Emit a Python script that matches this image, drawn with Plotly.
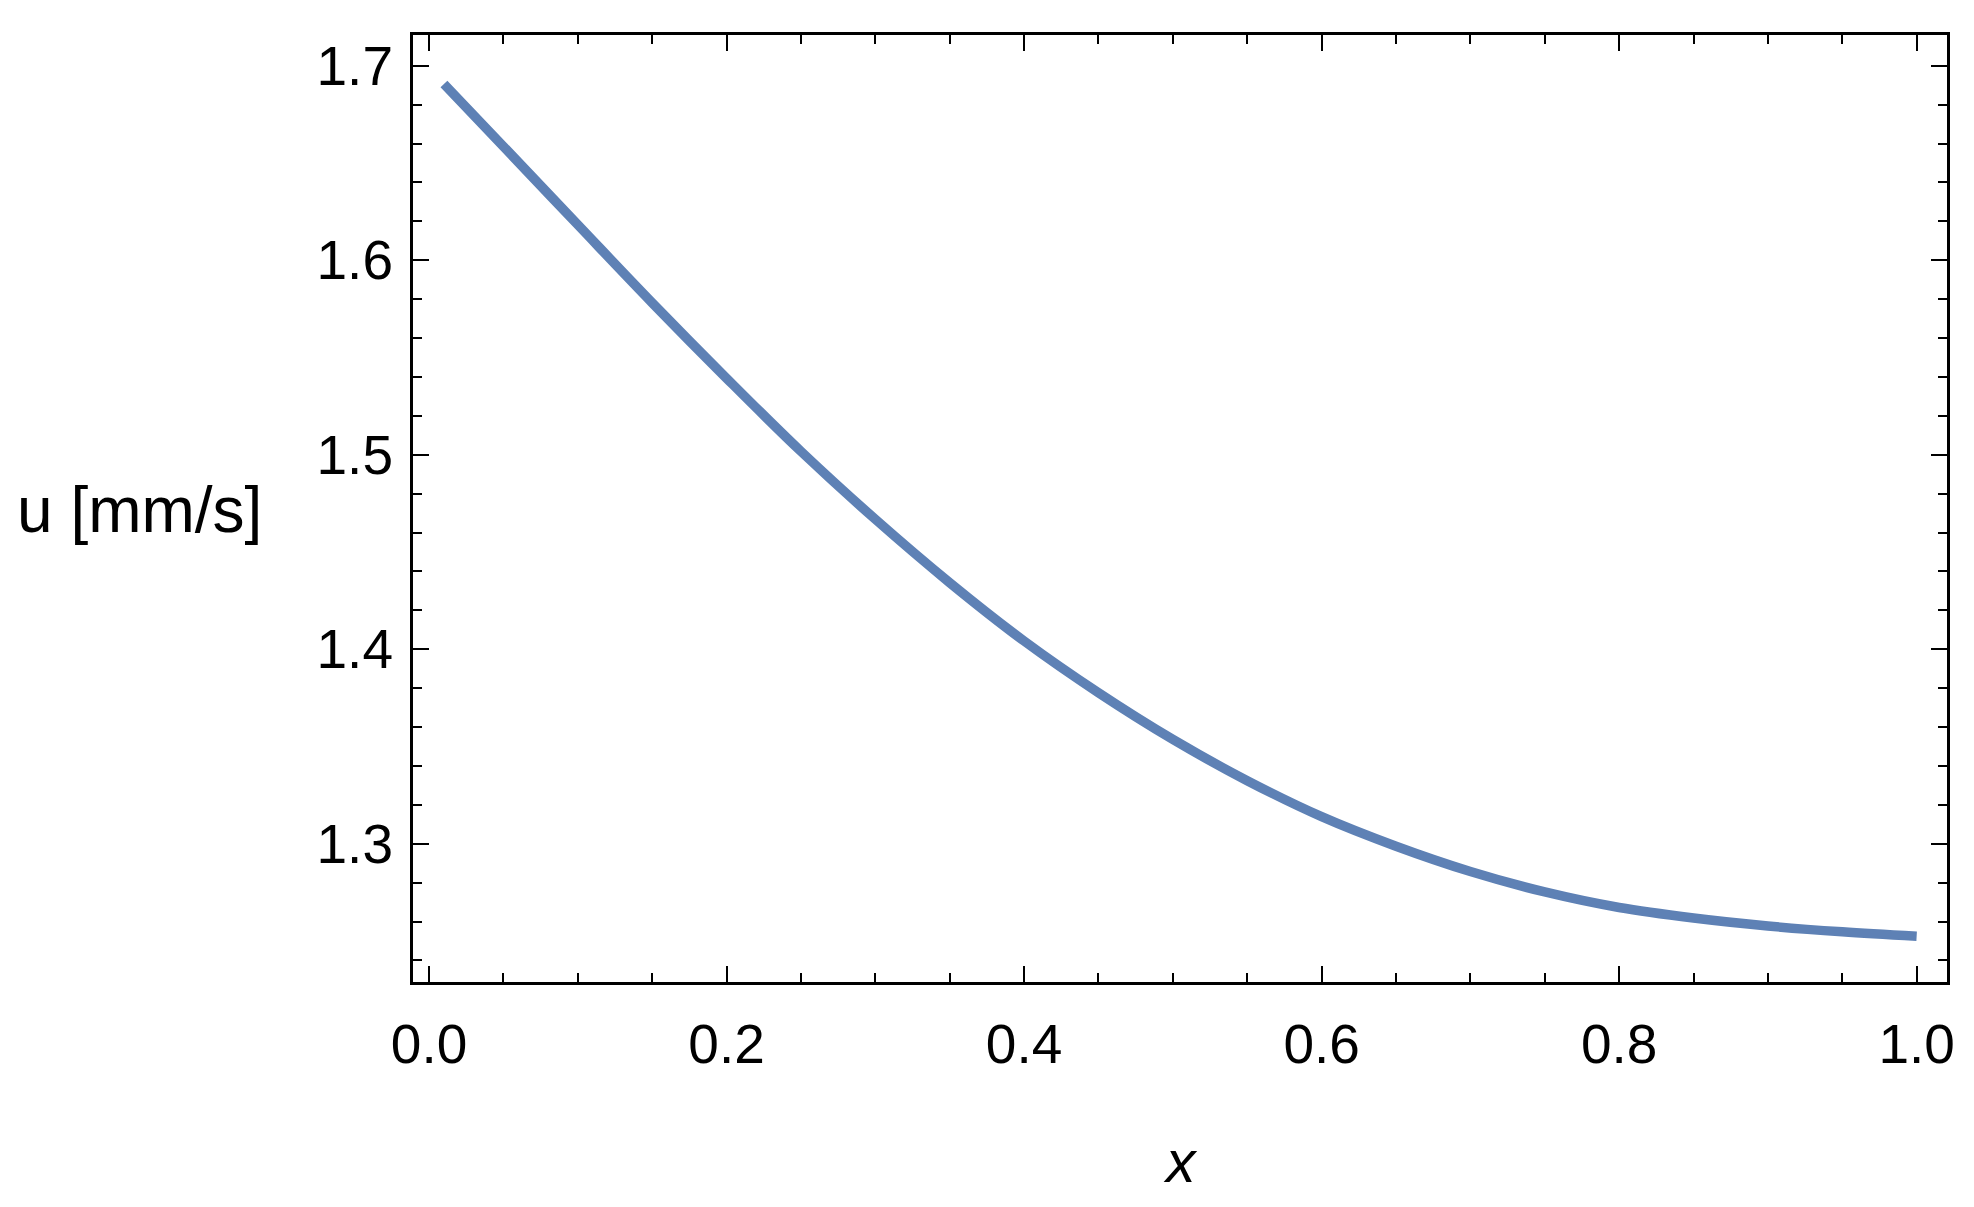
import plotly.graph_objects as go

x_vals = [0.01, 0.05, 0.10, 0.15, 0.20, 0.25, 0.30, 0.35, 0.40, 0.45, 0.50,
          0.55, 0.60, 0.65, 0.70, 0.75, 0.80, 0.85, 0.90, 0.95, 1.00]
u_vals = [1.6906, 1.6585, 1.6182, 1.5781, 1.5393, 1.5017, 1.4668, 1.4342, 1.4042, 1.3776, 1.3536,
          1.3324, 1.3139, 1.2987, 1.2857, 1.2752, 1.2672, 1.2618, 1.2577, 1.2547, 1.2524]

x_ticks = [0.0, 0.2, 0.4, 0.6, 0.8, 1.0]
x_ticklabels = ["0.0", "0.2", "0.4", "0.6", "0.8", "1.0"]
y_ticks = [1.3, 1.4, 1.5, 1.6, 1.7]
y_ticklabels = ["1.3", "1.4", "1.5", "1.6", "1.7"]

FONT = "Liberation Sans, Arial, sans-serif"

fig = go.Figure()
fig.add_trace(go.Scatter(
    x=x_vals, y=u_vals, mode="lines",
    line=dict(color="#5E81B5", width=9.5, shape="spline", smoothing=1.0),
    showlegend=False, hoverinfo="skip",
))

axis_common = dict(
    showgrid=False, zeroline=False,
    showline=True, linecolor="black", linewidth=3, mirror="allticks",
    ticks="inside", ticklen=16, tickwidth=2, tickcolor="black",
    tickfont=dict(family=FONT, size=55, color="black"),
)

fig.update_xaxes(
    range=[-0.0108, 1.0204],
    tickmode="array", tickvals=x_ticks, ticktext=x_ticklabels,
    minor=dict(dtick=0.05, ticks="inside", ticklen=9, tickwidth=2, tickcolor="black", showgrid=False),
    ticklabelstandoff=12,
    **axis_common,
)
fig.update_yaxes(
    range=[1.2289, 1.7158],
    tickmode="array", tickvals=y_ticks, ticktext=y_ticklabels,
    minor=dict(dtick=0.02, tick0=1.3, ticks="inside", ticklen=9, tickwidth=2, tickcolor="black", showgrid=False),
    ticklabelstandoff=6,
    **axis_common,
)

fig.add_annotation(
    text="u [mm/s]", xref="paper", yref="paper",
    x=-0.2595, y=0.498, xanchor="left", yanchor="middle", showarrow=False,
    font=dict(family=FONT, size=64, color="black"),
)
fig.add_annotation(
    text="<i>x</i>", xref="paper", yref="paper",
    x=0.5, y=-0.19, xanchor="center", yanchor="middle", showarrow=False,
    font=dict(family=FONT, size=59, color="black"),
)

fig.update_layout(
    width=1974, height=1207,
    margin=dict(l=413, r=27, t=35, b=225),
    paper_bgcolor="white", plot_bgcolor="white",
)

fig.write_html("out.html", config={"displayModeBar": False},
               post_script="document.body.style.margin='0px';")
